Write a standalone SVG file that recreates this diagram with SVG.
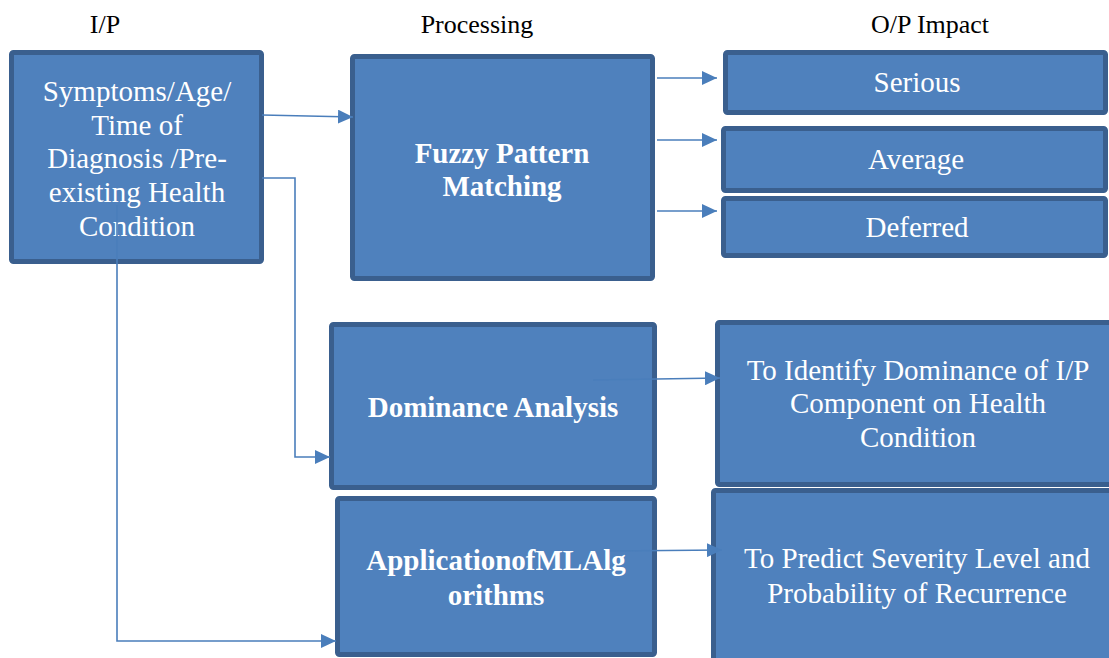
<svg xmlns="http://www.w3.org/2000/svg" width="1109" height="658" viewBox="0 0 1109 658">
<style>
.box{fill:#4f81bd;stroke:#3a5f8e;stroke-width:5}
.t{font-family:"Liberation Serif","Times New Roman",serif;font-size:29px;fill:#ffffff;text-anchor:middle}
.b{font-weight:bold}
.h{font-family:"Liberation Serif","Times New Roman",serif;font-size:26px;fill:#000000;text-anchor:middle}
.c{fill:none;stroke:#4a7ebb;stroke-width:1.6}
</style>
<defs>
<marker id="ah" markerUnits="userSpaceOnUse" markerWidth="16" markerHeight="14" refX="15" refY="7" orient="auto">
<path d="M0,0 L15,7 L0,14 z" fill="#4a7ebb"/>
</marker>
</defs>
<rect width="1109" height="658" fill="#ffffff"/>
<g id="headers">
<text class="h" x="105" y="33">I/P</text>
<text class="h" x="477" y="33">Processing</text>
<text class="h" x="930" y="33">O/P Impact</text>
</g>
<g id="input">
<rect class="box" x="11.5" y="52.5" width="250" height="209" rx="2"/>
<text class="t" x="137" y="101">Symptoms/Age/</text>
<text class="t" x="137" y="135">Time of</text>
<text class="t" x="137" y="168">Diagnosis /Pre-</text>
<text class="t" x="137" y="202">existing Health</text>
<text class="t" x="137" y="236">Condition</text>
</g>
<g id="fuzzy">
<rect class="box" x="352.5" y="56.5" width="300" height="222" rx="2"/>
<text class="t b" x="502" y="163">Fuzzy Pattern</text>
<text class="t b" x="502" y="196">Matching</text>
</g>
<g id="serious">
<rect class="box" x="725.5" y="52.5" width="380" height="60" rx="2"/>
<text class="t" x="917" y="92">Serious</text>
</g>
<g id="average">
<rect class="box" x="723.5" y="128.5" width="382" height="62" rx="2"/>
<text class="t" x="916" y="169">Average</text>
</g>
<g id="deferred">
<rect class="box" x="723.5" y="198.5" width="382" height="57" rx="2"/>
<text class="t" x="917" y="237">Deferred</text>
</g>
<g id="dominance">
<rect class="box" x="331.5" y="324.5" width="323" height="163" rx="2"/>
<text class="t b" x="493" y="417">Dominance Analysis</text>
</g>
<g id="ml">
<rect class="box" x="337.5" y="498.5" width="317" height="156" rx="2"/>
<text class="t b" x="496" y="570">ApplicationofMLAlg</text>
<text class="t b" x="496" y="605">orithms</text>
</g>
<g id="identify">
<rect class="box" x="717.5" y="322.5" width="400" height="162" rx="2"/>
<text class="t" x="918" y="380">To Identify Dominance of I/P</text>
<text class="t" x="918" y="413">Component on Health</text>
<text class="t" x="918" y="447">Condition</text>
</g>
<g id="predict">
<rect class="box" x="713.5" y="490.5" width="400" height="175" rx="2"/>
<text class="t" x="917" y="568">To Predict Severity Level and</text>
<text class="t" x="917" y="603">Probability of Recurrence</text>
</g>
<g id="connectors">
<path class="c" d="M262,115 L353,117" marker-end="url(#ah)"/>
<path class="c" d="M262,178 H295 V457 H330" marker-end="url(#ah)"/>
<path class="c" d="M117,205 V641 H336" marker-end="url(#ah)"/>
<path class="c" d="M657,78 H717" marker-end="url(#ah)"/>
<path class="c" d="M657,140 H717" marker-end="url(#ah)"/>
<path class="c" d="M657,211 H717" marker-end="url(#ah)"/>
<path class="c" d="M593,380 L720,378" marker-end="url(#ah)"/>
<path class="c" d="M610,551 L722,550" marker-end="url(#ah)"/>
</g>
</svg>
